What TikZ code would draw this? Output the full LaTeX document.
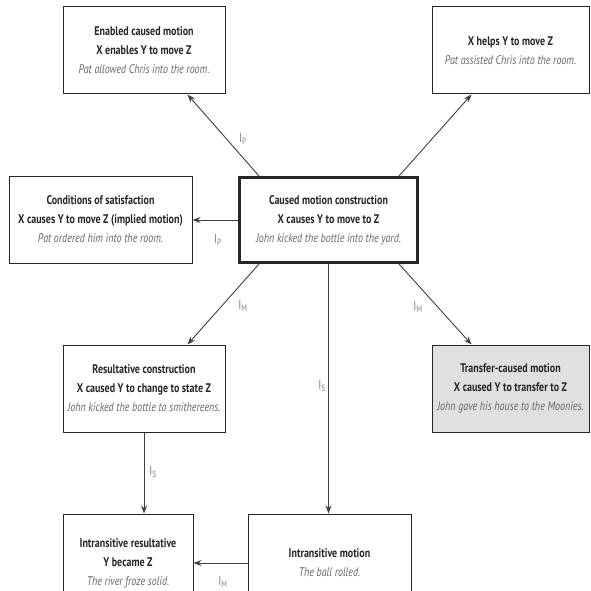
\documentclass[tikz,border=0pt]{standalone}
\usepackage{fontspec}
\setmainfont{PT Sans}[FakeStretch=0.8]
\usetikzlibrary{arrows.meta,positioning}
\tikzset{
	cbox/.style={draw=black!85,rectangle,align=center,fill=white,line width=1pt,inner sep=0pt,
		font=\fontsize{12.5}{19}\selectfont,text=black!85},
	mainbox/.style={cbox,line width=3pt},
	greybox/.style={cbox,fill=black!12},
	link/.style={draw=black!75,line width=0.9pt,-{Stealth[length=8pt,width=6pt]}},
	lab/.style={text=black!50,font=\fontsize{13}{14}\selectfont,inner sep=0pt}
}
\newcommand{\ttl}[1]{\textbf{#1}}
\newcommand{\exs}[1]{{\color{black!60}\itshape #1}}

\begin{document}
\begin{tikzpicture}[x=1pt,y=-1pt]
            \clip (0,0) rectangle (590,591);
            \fill[white] (0,0) rectangle (590,591);
            \node[mainbox,minimum width=178pt,minimum height=85pt] (cmc) at (328.5,220)
                {\ttl{Caused motion construction}\\\ttl{X causes Y to move to Z}\\\exs{John kicked the bottle into the yard.}};
            \node[cbox,minimum width=162pt,minimum height=87pt] (ecm) at (144,50.5)
                {\ttl{Enabled caused motion}\\\ttl{X enables Y to move Z}\\\exs{Pat allowed Chris into the room.}};
            \node[cbox,minimum width=157pt,minimum height=87pt] (help) at (510.5,50.5)
                {\ttl{X helps Y to move Z}\\\exs{Pat assisted Chris into the room.}};
            \node[cbox,minimum width=183pt,minimum height=87pt] (cond) at (100.5,219.5)
                {\ttl{Conditions of satisfaction}\\\ttl{X causes Y to move Z (implied motion)}\\\exs{Pat ordered him into the room.}};
            \node[cbox,minimum width=162pt,minimum height=87pt] (res) at (144,388.5)
                {\ttl{Resultative construction}\\\ttl{X caused Y to change to state Z}\\\exs{John kicked the bottle to smithereens.}};
            \node[greybox,minimum width=157pt,minimum height=87pt] (trans) at (510.5,388.5)
                {\ttl{Transfer-caused motion}\\\ttl{X caused Y to transfer to Z}\\\exs{John gave his house to the Moonies.}};
            \node[cbox,minimum width=130pt,minimum height=98pt] (intres) at (128,563)
                {\ttl{Intransitive resultative}\\\ttl{Y became Z}\\\exs{The river froze solid.}};
            \node[cbox,minimum width=163pt,minimum height=98pt] (intmot) at (329.5,563)
                {\ttl{Intransitive motion}\\\exs{The ball rolled.}};
            \draw[link] ([xshift=21pt]cmc.north west) -- ([xshift=-38pt]ecm.south east);
            \draw[link] ([xshift=-20pt]cmc.north east) -- ([xshift=40pt]help.south west);
            \draw[link] (cmc.west) -- (cmc.west -| cond.east);
            \draw[link] ([xshift=21pt]cmc.south west) -- ([xshift=-38pt]res.north east);
            \draw[link] ([xshift=-20pt]cmc.south east) -- ([xshift=40pt]trans.north west);
            \draw[link] (cmc.south) -- (cmc.south |- intmot.north);
            \draw[link] (res.south) -- (res.south |- intres.north);
            \draw[link] (intmot.west) -- (intmot.west -| intres.east);
            \node[lab] (lp1) at (243,139) {I\textsubscript{P}};
            \node[lab] (lp2) at (218,240) {I\textsubscript{P}};
            \node[lab] (lm1) at (243,306) {I\textsubscript{M}};
            \node[lab] (lm2) at (418,307) {I\textsubscript{M}};
            \node[lab] (ls1) at (322,386) {I\textsubscript{S}};
            \node[lab] (ls2) at (153,472) {I\textsubscript{S}};
            \node[lab] (lm3) at (223,582) {I\textsubscript{M}};
        \end{tikzpicture}
\end{document}
